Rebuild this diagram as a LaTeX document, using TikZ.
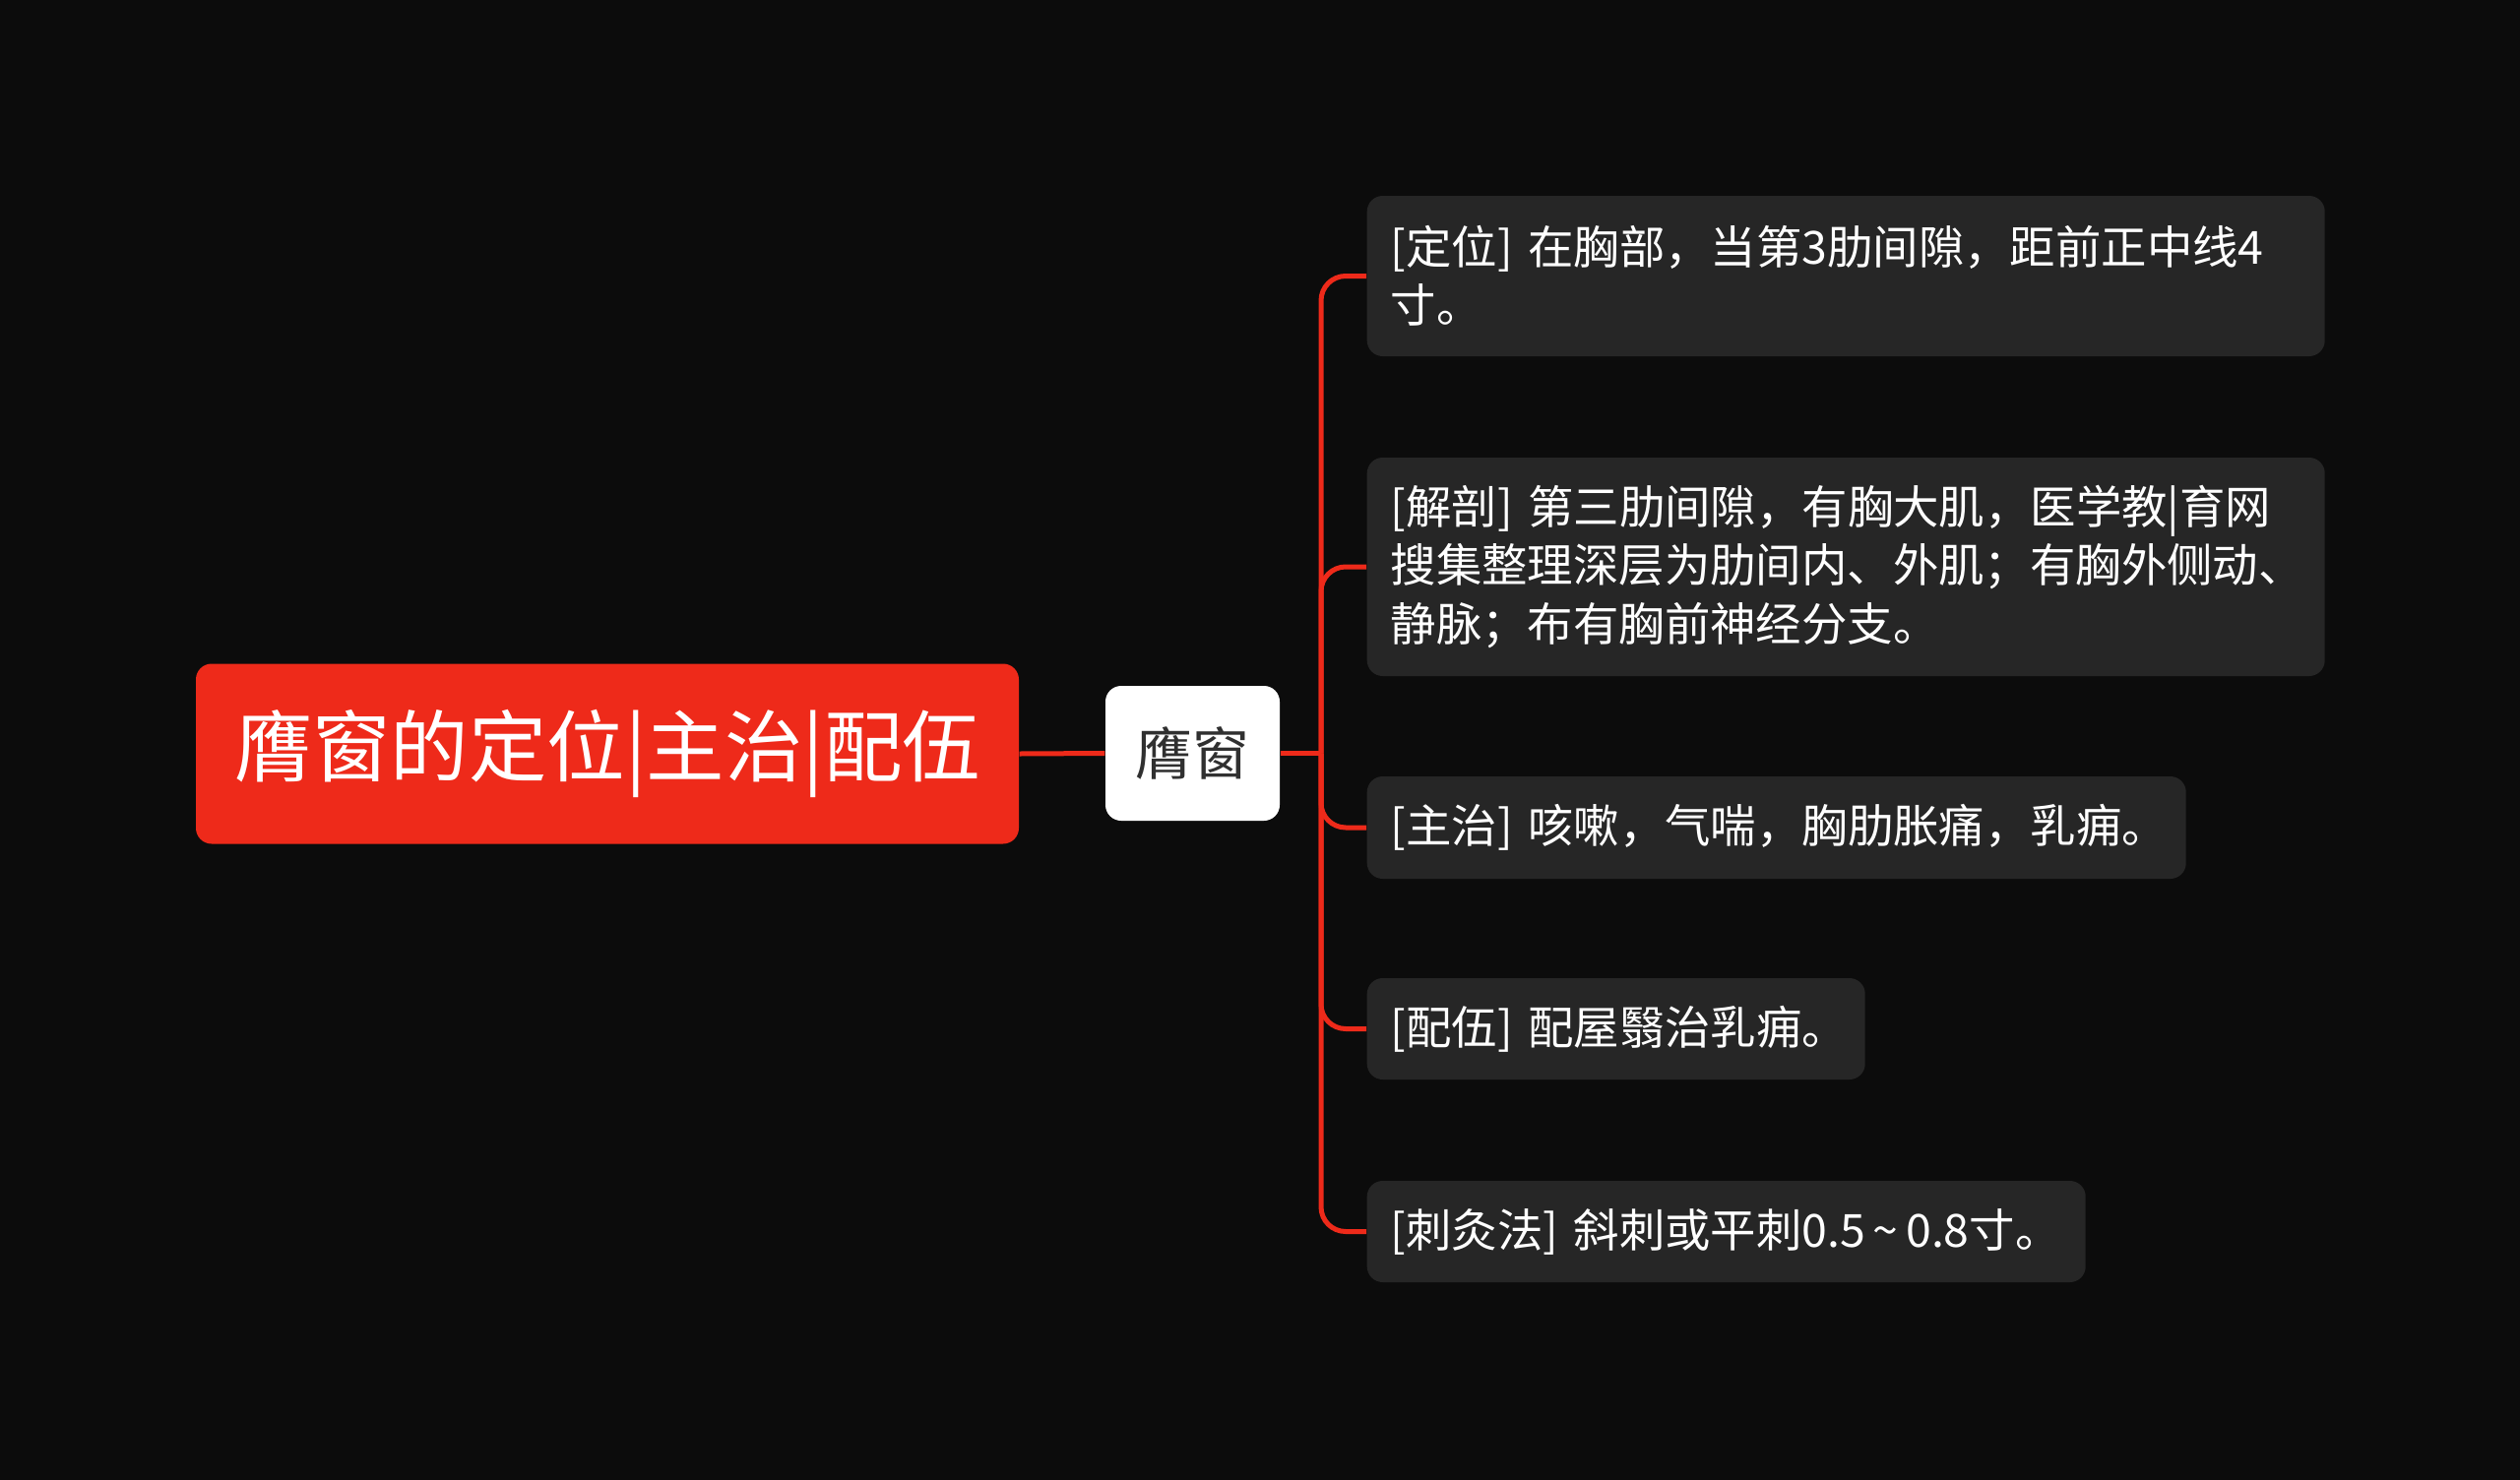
\documentclass[tikz,border=0pt]{standalone}
\usepackage{fontspec}
\setmainfont{Noto Sans CJK SC}
\usepackage{xcolor}
\usepackage{tikz}
\usetikzlibrary{calc}
\definecolor{bgdark}{HTML}{0C0C0C}
\definecolor{mapred}{HTML}{EE2A1A}
\definecolor{leafgray}{HTML}{262626}
\definecolor{inkdark}{HTML}{303030}

\begin{document}
\begin{tikzpicture}[x=1cm, y=1cm,
                rootbox/.style={rectangle, rounded corners=0.16cm, fill=mapred, text=white,
                    minimum width=8.36cm, minimum height=1.83cm, inner sep=0pt,
                    font=\fontsize{22.6}{27}\selectfont},
                mainbox/.style={rectangle, rounded corners=0.16cm, fill=white, text=inkdark,
                    minimum width=1.77cm, minimum height=1.37cm, inner sep=0pt,
                    font=\fontsize{16.5}{20}\selectfont},
                leafbox/.style={rectangle, rounded corners=0.16cm, fill=leafgray, text=white,
                    anchor=west, align=left, inner xsep=0.24cm, inner ysep=0pt,
                    font=\fontsize{13.2}{16.8}\selectfont},
                branch/.style={draw=mapred, line width=0.05cm}]
                \fill[bgdark] (0,0) rectangle (25.6,-15.04);
                \useasboundingbox (0,0) rectangle (25.6,-15.04);
                \node [rootbox] (root) at (6.17,-7.66) {膺窗的定位|主治|配伍};
                \node [mainbox] (main) at (12.115,-7.655) {膺窗};
                \node [leafbox, text width=9.25cm, minimum height=1.63cm] (loc) at (13.88,-2.805)
                    {\mbox{[定位] 在胸部，当第3肋间隙，距前正中线4}\\寸。};
                \node [leafbox, text width=9.25cm, minimum height=2.22cm] (anat) at (13.88,-5.76)
                    {\mbox{[解剖] 第三肋间隙，有胸大肌，医学教|育网}\\\mbox{搜集整理深层为肋间内、外肌；有胸外侧动、}\\静脉；布有胸前神经分支。};
                \node [leafbox, text width=7.84cm, minimum height=1.04cm] (treat) at (13.88,-8.41)
                    {\mbox{[主治] 咳嗽，气喘，胸肋胀痛，乳痈。}};
                \node [leafbox, text width=4.58cm, minimum height=1.03cm] (combo) at (13.88,-10.455)
                    {\mbox{[配伍] 配屋翳治乳痈。}};
                \node [leafbox, text width=6.82cm, minimum height=1.03cm] (needle) at (13.88,-12.515)
                    {\mbox{[刺灸法] 斜刺或平刺0.5\,\textasciitilde\,0.8寸。}};
                % connectors
                \coordinate (hub) at (13.42,-7.655);
                \draw [branch] (root.east) -- (main.west);
                \draw [branch] (main.east) -- (hub);
                \foreach \leaf in {loc, anat, treat, combo, needle}
                    \draw [branch, rounded corners=0.25cm] (hub) |- (\leaf.west);
        \end{tikzpicture}
\end{document}
